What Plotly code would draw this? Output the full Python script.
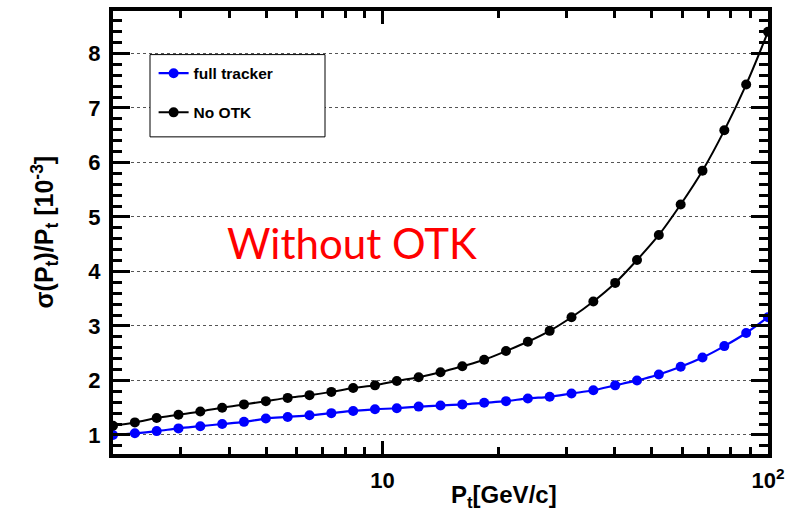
import plotly.graph_objects as go

# Data
pt = [2.000, 2.279, 2.596, 2.957, 3.369, 3.839, 4.373, 4.983, 5.677, 6.467,
      7.368, 8.394, 9.563, 10.895, 12.413, 14.142, 16.112, 18.356, 20.913, 23.826,
      27.145, 30.925, 35.233, 40.140, 45.731, 52.100, 59.357, 67.624, 77.043, 87.774,
      100.0]

full_tracker = [1.00, 1.03, 1.07, 1.12, 1.16, 1.20, 1.24, 1.30, 1.33, 1.36,
                1.40, 1.44, 1.47, 1.49, 1.52, 1.54, 1.56, 1.59, 1.62, 1.67,
                1.70, 1.76, 1.82, 1.91, 2.00, 2.11, 2.25, 2.42, 2.63, 2.87,
                3.16]

no_otk = [1.17, 1.23, 1.31, 1.37, 1.43, 1.50, 1.56, 1.62, 1.68, 1.73,
          1.79, 1.86, 1.91, 1.99, 2.06, 2.15, 2.26, 2.38, 2.54, 2.71,
          2.91, 3.16, 3.45, 3.79, 4.21, 4.67, 5.23, 5.85, 6.59, 7.43,
          8.40]

series_names = ["full tracker", "No OTK"]
x_major_ticks = [10, 100]
x_major_text = ["10", "10<sup>2</sup>"]
x_minor_ticks = [2, 3, 4, 5, 6, 7, 8, 9, 20, 30, 40, 50, 60, 70, 80, 90]
y_ticks = [1, 2, 3, 4, 5, 6, 7, 8]

FONT = "Liberation Sans"

fig = go.Figure()
fig.add_trace(go.Scatter(
    x=pt, y=full_tracker, mode="lines+markers", name=series_names[0],
    line=dict(color="#0000ff", width=2.2, shape="spline"),
    marker=dict(color="#0000ff", size=10),
    legendgroup="a"))
fig.add_trace(go.Scatter(
    x=pt, y=no_otk, mode="lines+markers", name=series_names[1],
    line=dict(color="black", width=2, shape="spline"),
    marker=dict(color="black", size=10),
    legendgroup="b"))

fig.update_layout(
    width=795, height=516,
    margin=dict(l=113, r=27, t=7, b=62),
    paper_bgcolor="white", plot_bgcolor="white",
    font=dict(family=FONT, color="black"),
    showlegend=True,
    legend=dict(
        x=0.062, y=0.897, xanchor="left", yanchor="top",
        bgcolor="rgba(0,0,0,0)", borderwidth=0,
        font=dict(family=FONT, size=15.5, weight="bold", color="black"),
        tracegroupgap=16, traceorder="grouped",
    ),
)

fig.update_xaxes(
    type="log", range=[0.30103, 2.0],
    tickvals=x_major_ticks, ticktext=x_major_text,
    ticks="inside", ticklen=13, tickwidth=3, tickcolor="black",
    showline=True, linewidth=4, linecolor="black", mirror="allticks",
    showgrid=False, zeroline=False,
    tickfont=dict(family=FONT, size=22, weight="bold"),
    ticklabelstandoff=4,
    minor=dict(tickvals=x_minor_ticks, ticks="inside", ticklen=7,
               tickwidth=3, tickcolor="black", showgrid=False),
)

fig.update_yaxes(
    range=[0.65, 8.78],
    tickvals=y_ticks,
    ticks="inside", ticklen=17, tickwidth=3, tickcolor="black",
    showline=True, linewidth=4, linecolor="black", mirror="allticks",
    showgrid=True, gridcolor="#555555", griddash="dot", gridwidth=1,
    zeroline=False,
    tickfont=dict(family=FONT, size=22, weight="bold"),
    ticklabelstandoff=4,
    minor=dict(dtick=0.2, tick0=0, ticks="inside", ticklen=9,
               tickwidth=3, tickcolor="black", showgrid=False),
)

# Legend frame
fig.add_shape(type="rect", xref="paper", yref="paper",
              x0=(150 - 113) / 655, x1=(325 - 113) / 655,
              y0=(454 - 134) / 447, y1=(454 - 51) / 447,
              line=dict(color="black", width=1), fillcolor="white", layer="above")

fig.add_annotation(
    text="Without OTK", xref="paper", yref="paper",
    x=(352 - 113) / 655, y=(454 - 241) / 447, xanchor="center", yanchor="middle",
    showarrow=False, font=dict(family="Lato", size=42, color="#ff0000"))

fig.add_annotation(
    text="P<sub>t</sub>[GeV/c]", xref="paper", yref="paper",
    x=(504 - 113) / 655, y=(454 - 497) / 447, xanchor="center", yanchor="middle",
    showarrow=False, font=dict(family=FONT, size=24, weight="bold"))

fig.add_annotation(
    text="σ(P<sub>t</sub>)/P<sub>t</sub> [10<sup>-3</sup>]", xref="paper", yref="paper",
    x=(44 - 113) / 655, y=0.5, xanchor="center", yanchor="middle", textangle=-90,
    showarrow=False, font=dict(family=FONT, size=25, weight="bold"))

fig.write_html("out.html")
